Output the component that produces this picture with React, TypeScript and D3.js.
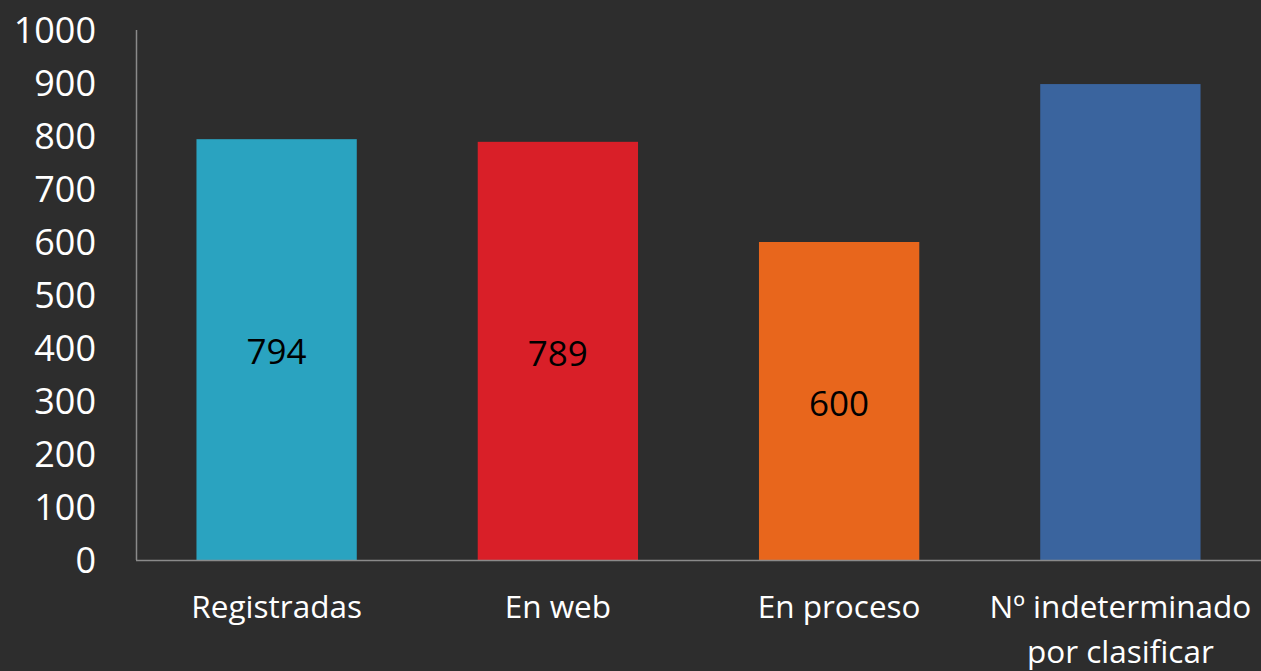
import React from "react";
import * as d3 from "d3";

const categories = ["Registradas", "En web", "En proceso", "Nº indeterminado\npor clasificar"];
const values = [794, 789, 600, 898];
const showLabel = [true, true, true, false];
const colors = ["#2aa3c0", "#d91f28", "#e8661c", "#3a649e"];
const yTicks = [0, 100, 200, 300, 400, 500, 600, 700, 800, 900, 1000];

const W = 1261;
const H = 671;
const FONT = "'Open Sans', 'Noto Sans', sans-serif";

export default function App() {
  const x = d3
    .scaleBand<string>()
    .domain(categories)
    .range([136, 1261])
    .paddingInner(0.43)
    .paddingOuter(0.215);
  const y = d3.scaleLinear().domain([0, 1000]).range([560, 30]);

  return (
    <svg
      width={W}
      height={H}
      style={{ position: "absolute", left: 0, top: 0, background: "#2d2d2d" }}
    >
      <rect x={0} y={0} width={W} height={H} fill="#2d2d2d" />
      {yTicks.map((t) => (
        <text
          key={t}
          x={96}
          y={y(t)}
          dy="0.36em"
          textAnchor="end"
          fill="#ffffff"
          fontFamily={FONT}
          fontSize={36}
        >
          {t}
        </text>
      ))}
      {categories.map((c, i) => {
        const bx = x(c)!;
        const bw = x.bandwidth();
        const top = y(values[i]);
        return (
          <g key={c}>
            <rect x={bx} y={top} width={bw} height={y(0) - top} fill={colors[i]} />
            {showLabel[i] && (
              <text
                x={bx + bw / 2}
                y={(top + y(0)) / 2 + 2}
                dy="0.36em"
                textAnchor="middle"
                fill="#000000"
                fontFamily={FONT}
                fontSize={35}
              >
                {values[i]}
              </text>
            )}
            {c.split("\n").map((line, j) => (
              <text
                key={j}
                x={bx + bw / 2}
                y={607 + j * 45}
                dy="0.36em"
                textAnchor="middle"
                fill="#ffffff"
                fontFamily={FONT}
                fontSize={31.5}
              >
                {line}
              </text>
            ))}
          </g>
        );
      })}
      <line x1={136.5} x2={136.5} y1={30} y2={560} stroke="#8a8a8a" strokeWidth={1.5} />
      <line x1={136} x2={W} y1={560.5} y2={560.5} stroke="#8a8a8a" strokeWidth={1.5} />
    </svg>
  );
}
